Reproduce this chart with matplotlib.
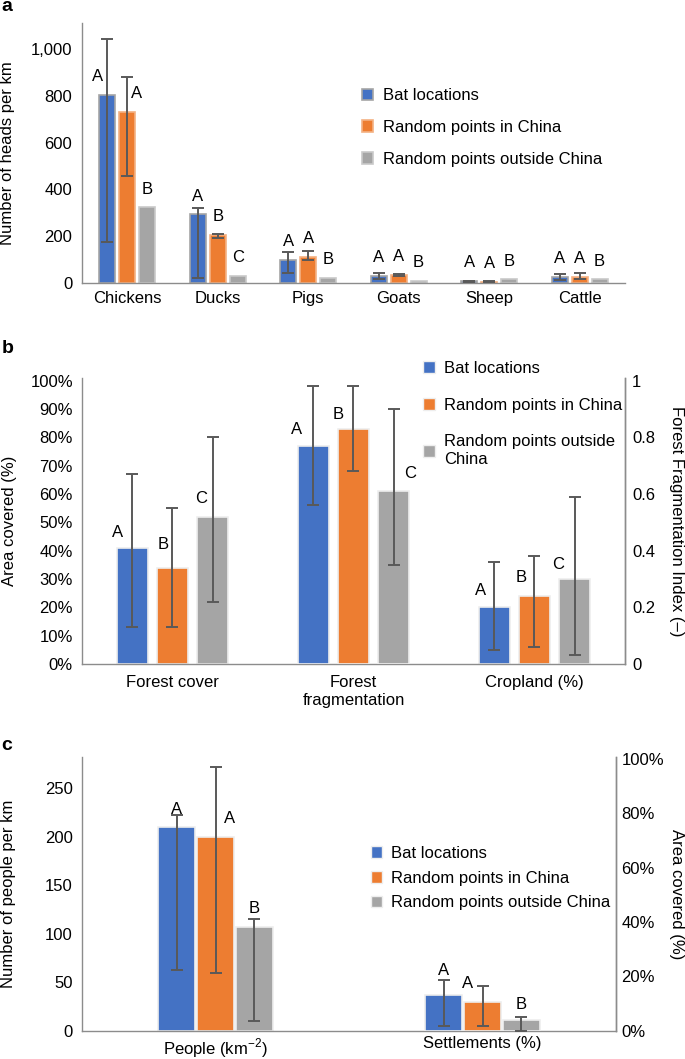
import numpy as np
import matplotlib
matplotlib.use("Agg")
from matplotlib import pyplot as plt
from matplotlib.patches import Patch
from matplotlib.ticker import FuncFormatter, PercentFormatter

plt.rcParams['font.family'] = ['Liberation Sans', 'DejaVu Sans']
plt.rcParams['mathtext.fontset'] = 'custom'
plt.rcParams['mathtext.rm'] = 'Liberation Sans'
plt.rcParams['font.size'] = 12

series = ["Bat locations", "Random points in China", "Random points outside China"]

# panel a: livestock
livestock = ["Chickens", "Ducks", "Pigs", "Goats", "Sheep", "Cattle"]
heads = [
    [805, 293, 100, 30, 7, 25],
    [732, 206, 113, 33, 5, 25],
    [323, 29, 20, 10, 15, 15],
]
heads_lo = [
    [176, 21, 43, 15, 3, 12],
    [458, 193, 100, 30, 3, 15],
    [323, 29, 20, 10, 15, 15],
]
heads_hi = [
    [1044, 319, 133, 42, 10, 38],
    [883, 211, 138, 38, 7, 43],
    [323, 29, 20, 10, 15, 15],
]
heads_letters = [
    ["A", "A", "A", "A", "A", "A"],
    ["A", "B", "A", "A", "A", "A"],
    ["B", "C", "B", "B", "B", "B"],
]

# panel b: forest cover, forest fragmentation (index), cropland
land = ["Forest cover", "Forest\nfragmentation", "Cropland (%)"]
land_vals = [
    [41, 77, 20],
    [34, 83, 24],
    [52, 61, 30],
]
land_lo = [
    [13, 56, 5],
    [13, 68, 6],
    [22, 35, 3],
]
land_hi = [
    [67, 98, 36],
    [55, 98, 38],
    [80, 90, 59],
]
land_letters = [
    ["A", "A", "A"],
    ["B", "B", "B"],
    ["C", "C", "C"],
]

# panel c: people and settlements
human = ["People (km$^{\\mathregular{-2}}$)", "Settlements (%)"]
human_vals = [
    [210, 13],
    [200, 10.5],
    [107, 3.7],
]
human_lo = [
    [62, 1.6],
    [59, 1.6],
    [10, 0],
]
human_hi = [
    [222, 18.7],
    [272, 16.4],
    [115, 4.9],
]
human_letters = [
    ["A", "A"],
    ["A", "A"],
    ["B", "B"],
]

colors = ["#4472C4", "#ED7D31", "#A5A5A5"]
spine_col = "#8c8c8c"
err_col = "#595959"

# letter offsets in points (dx, dy) per series/category
a_off = [
    [(-7, 10), (0, 10), (0, 10), (0, 10), (0, 10), (0, 10)],
    [(6.5, 10), (0, 10), (0, 10), (0, 10), (0, 10), (0, 10)],
    [(0, 10), (0, 10), (0, 10), (0, 10), (0, 10), (0, 10)],
]
b_off = [
    [(-10.5, 8), (-12, 8.6), (-10, 8.6)],
    [(-7, 13.7), (-11, 7.2), (-9.4, 10)],
    [(-8, 10), (11.5, 9.4), (-12, 7.2)],
]
c_off = [
    [(0, 9.4), (0, 14.4)],
    [(10, 10), (-10.8, 10)],
    [(0, 10), (0, 8.6)],
]

fig = plt.figure(figsize=(6.85, 10.59), dpi=100)


def style_axis(ax, right=False):
    ax.spines["top"].set_visible(False)
    if not right:
        ax.spines["right"].set_visible(False)
    for s in ax.spines.values():
        s.set_color(spine_col)
        s.set_linewidth(1.0)
    ax.tick_params(length=0, labelsize=12)


def draw_bar(ax, x, v, lo, hi, w, col, edge, letter, off):
    ax.bar(x, v, w, color=col, edgecolor=edge, linewidth=1.2, zorder=2)
    if hi > lo:
        ax.errorbar(x, v, yerr=[[v - lo], [hi - v]], fmt="none", ecolor=err_col,
                    elinewidth=1.4, capsize=4, capthick=1.4, zorder=3)
    ax.annotate(letter, (x, v), xytext=off, textcoords="offset points",
                ha="center", va="baseline", fontsize=12)


# ---- panel a
ax = fig.add_axes([0.1197, 0.7328, 0.7927, 0.2455])
style_axis(ax)
xs = np.arange(len(livestock))
edges_a = ["#a5a5a5", "#f4b183", "#c9c9c9"]
for i in range(3):
    for j in range(len(livestock)):
        draw_bar(ax, xs[j] + (i - 1) * 0.22, heads[i][j], heads_lo[i][j], heads_hi[i][j],
                 0.18, colors[i], edges_a[i], heads_letters[i][j], a_off[i][j])
ax.set_xlim(-0.5, 5.5)
ax.set_ylim(0, 1112)
ax.set_yticks(range(0, 1001, 200))
ax.yaxis.set_major_formatter(FuncFormatter(lambda v, p: "{:,.0f}".format(v)))
ax.set_xticks(xs)
ax.set_xticklabels(livestock)
ax.tick_params(axis="y", pad=7)
ax.tick_params(axis="x", pad=6)
ax.set_ylabel("Number of heads per km", fontsize=12)
ax.yaxis.set_label_coords(-0.123, 0.5)
h = [Patch(facecolor=colors[i], edgecolor=edges_a[i], linewidth=1.2) for i in range(3)]
fig.legend(h, series, loc="upper left", bbox_to_anchor=(0.528, 0.9165), frameon=False,
           fontsize=12, handlelength=0.7, handleheight=0.7, handletextpad=0.55,
           labelspacing=1.0, borderpad=0, borderaxespad=0)

# ---- panel b
ax = fig.add_axes([0.1197, 0.3730, 0.7927, 0.2701])
style_axis(ax, right=True)
axr = ax.twinx()
style_axis(axr, right=True)
axr.spines["left"].set_visible(False)
axr.spines["bottom"].set_visible(False)
xs = np.arange(len(land))
for i in range(3):
    for j in range(len(land)):
        if j == 1:
            tgt, sc = axr, 0.01
        else:
            tgt, sc = ax, 1
        draw_bar(tgt, xs[j] + (i - 1) * 0.222, land_vals[i][j] * sc, land_lo[i][j] * sc,
                 land_hi[i][j] * sc, 0.172, colors[i], "#eeeeee", land_letters[i][j], b_off[i][j])
ax.set_xlim(-0.5, 2.5)
ax.set_ylim(0, 101)
axr.set_ylim(0, 1.01)
ax.set_yticks(range(0, 101, 10))
ax.yaxis.set_major_formatter(PercentFormatter(decimals=0))
axr.set_yticks([0, 0.2, 0.4, 0.6, 0.8, 1.0])
axr.set_yticklabels(["0", "0.2", "0.4", "0.6", "0.8", "1"])
ax.set_xticks(xs)
ax.set_xticklabels(land)
ax.tick_params(axis="y", pad=6.5)
ax.tick_params(axis="x", pad=8)
axr.tick_params(axis="y", pad=5)
ax.set_ylabel("Area covered (%)", fontsize=12)
ax.yaxis.set_label_coords(-0.12, 0.5)
axr.set_ylabel("Forest Fragmentation Index (–)", fontsize=12, rotation=270,
               va="center", ha="center")
axr.yaxis.set_label_coords(1.095, 0.5)
h = [Patch(facecolor=colors[i], edgecolor="#eeeeee") for i in range(3)]
fig.legend(h, ["Bat locations", "Random points in China", "Random points outside\nChina"],
           loc="upper left", bbox_to_anchor=(0.618, 0.659), frameon=False,
           fontsize=12, handlelength=0.7, handleheight=0.7, handletextpad=0.55,
           labelspacing=1.3, borderpad=0, borderaxespad=0)

# ---- panel c
ax = fig.add_axes([0.1197, 0.0269, 0.7796, 0.2583])
style_axis(ax, right=True)
axr = ax.twinx()
style_axis(axr, right=True)
axr.spines["left"].set_visible(False)
axr.spines["bottom"].set_visible(False)
xs = np.arange(len(human))
for i in range(3):
    for j in range(len(human)):
        if j == 1:
            tgt, sc = axr, 0.01
        else:
            tgt, sc = ax, 1
        draw_bar(tgt, xs[j] + (i - 1) * 0.146, human_vals[i][j] * sc, human_lo[i][j] * sc,
                 human_hi[i][j] * sc, 0.136, colors[i], "#eeeeee", human_letters[i][j], c_off[i][j])
ax.set_xlim(-0.5, 1.5)
ax.set_ylim(0, 282)
axr.set_ylim(0, 1.007)
ax.set_yticks(range(0, 251, 50))
axr.set_yticks([0, 0.2, 0.4, 0.6, 0.8, 1.0])
axr.yaxis.set_major_formatter(PercentFormatter(xmax=1, decimals=0))
ax.set_xticks(xs)
ax.set_xticklabels(human)
ax.tick_params(axis="y", pad=6.5)
ax.tick_params(axis="x", pad=4)
axr.tick_params(axis="y", pad=4)
ax.set_ylabel("Number of people per km", fontsize=12)
ax.yaxis.set_label_coords(-0.123, 0.5)
axr.set_ylabel("Area covered (%)", fontsize=12, rotation=270, va="center", ha="center")
axr.yaxis.set_label_coords(1.114, 0.5)
h = [Patch(facecolor=colors[i], edgecolor="#eeeeee") for i in range(3)]
fig.legend(h, series, loc="upper left", bbox_to_anchor=(0.541, 0.201), frameon=False,
           fontsize=12, handlelength=0.7, handleheight=0.7, handletextpad=0.55,
           labelspacing=0.58, borderpad=0, borderaxespad=0)

fig.text(0.002, 0.9895, "a", fontsize=14, fontweight="bold", va="baseline")
fig.text(0.002, 0.6667, "b", fontsize=14, fontweight="bold", va="baseline")
fig.text(0.002, 0.2918, "c", fontsize=14, fontweight="bold", va="baseline")

fig.savefig("out.png", dpi=100)
